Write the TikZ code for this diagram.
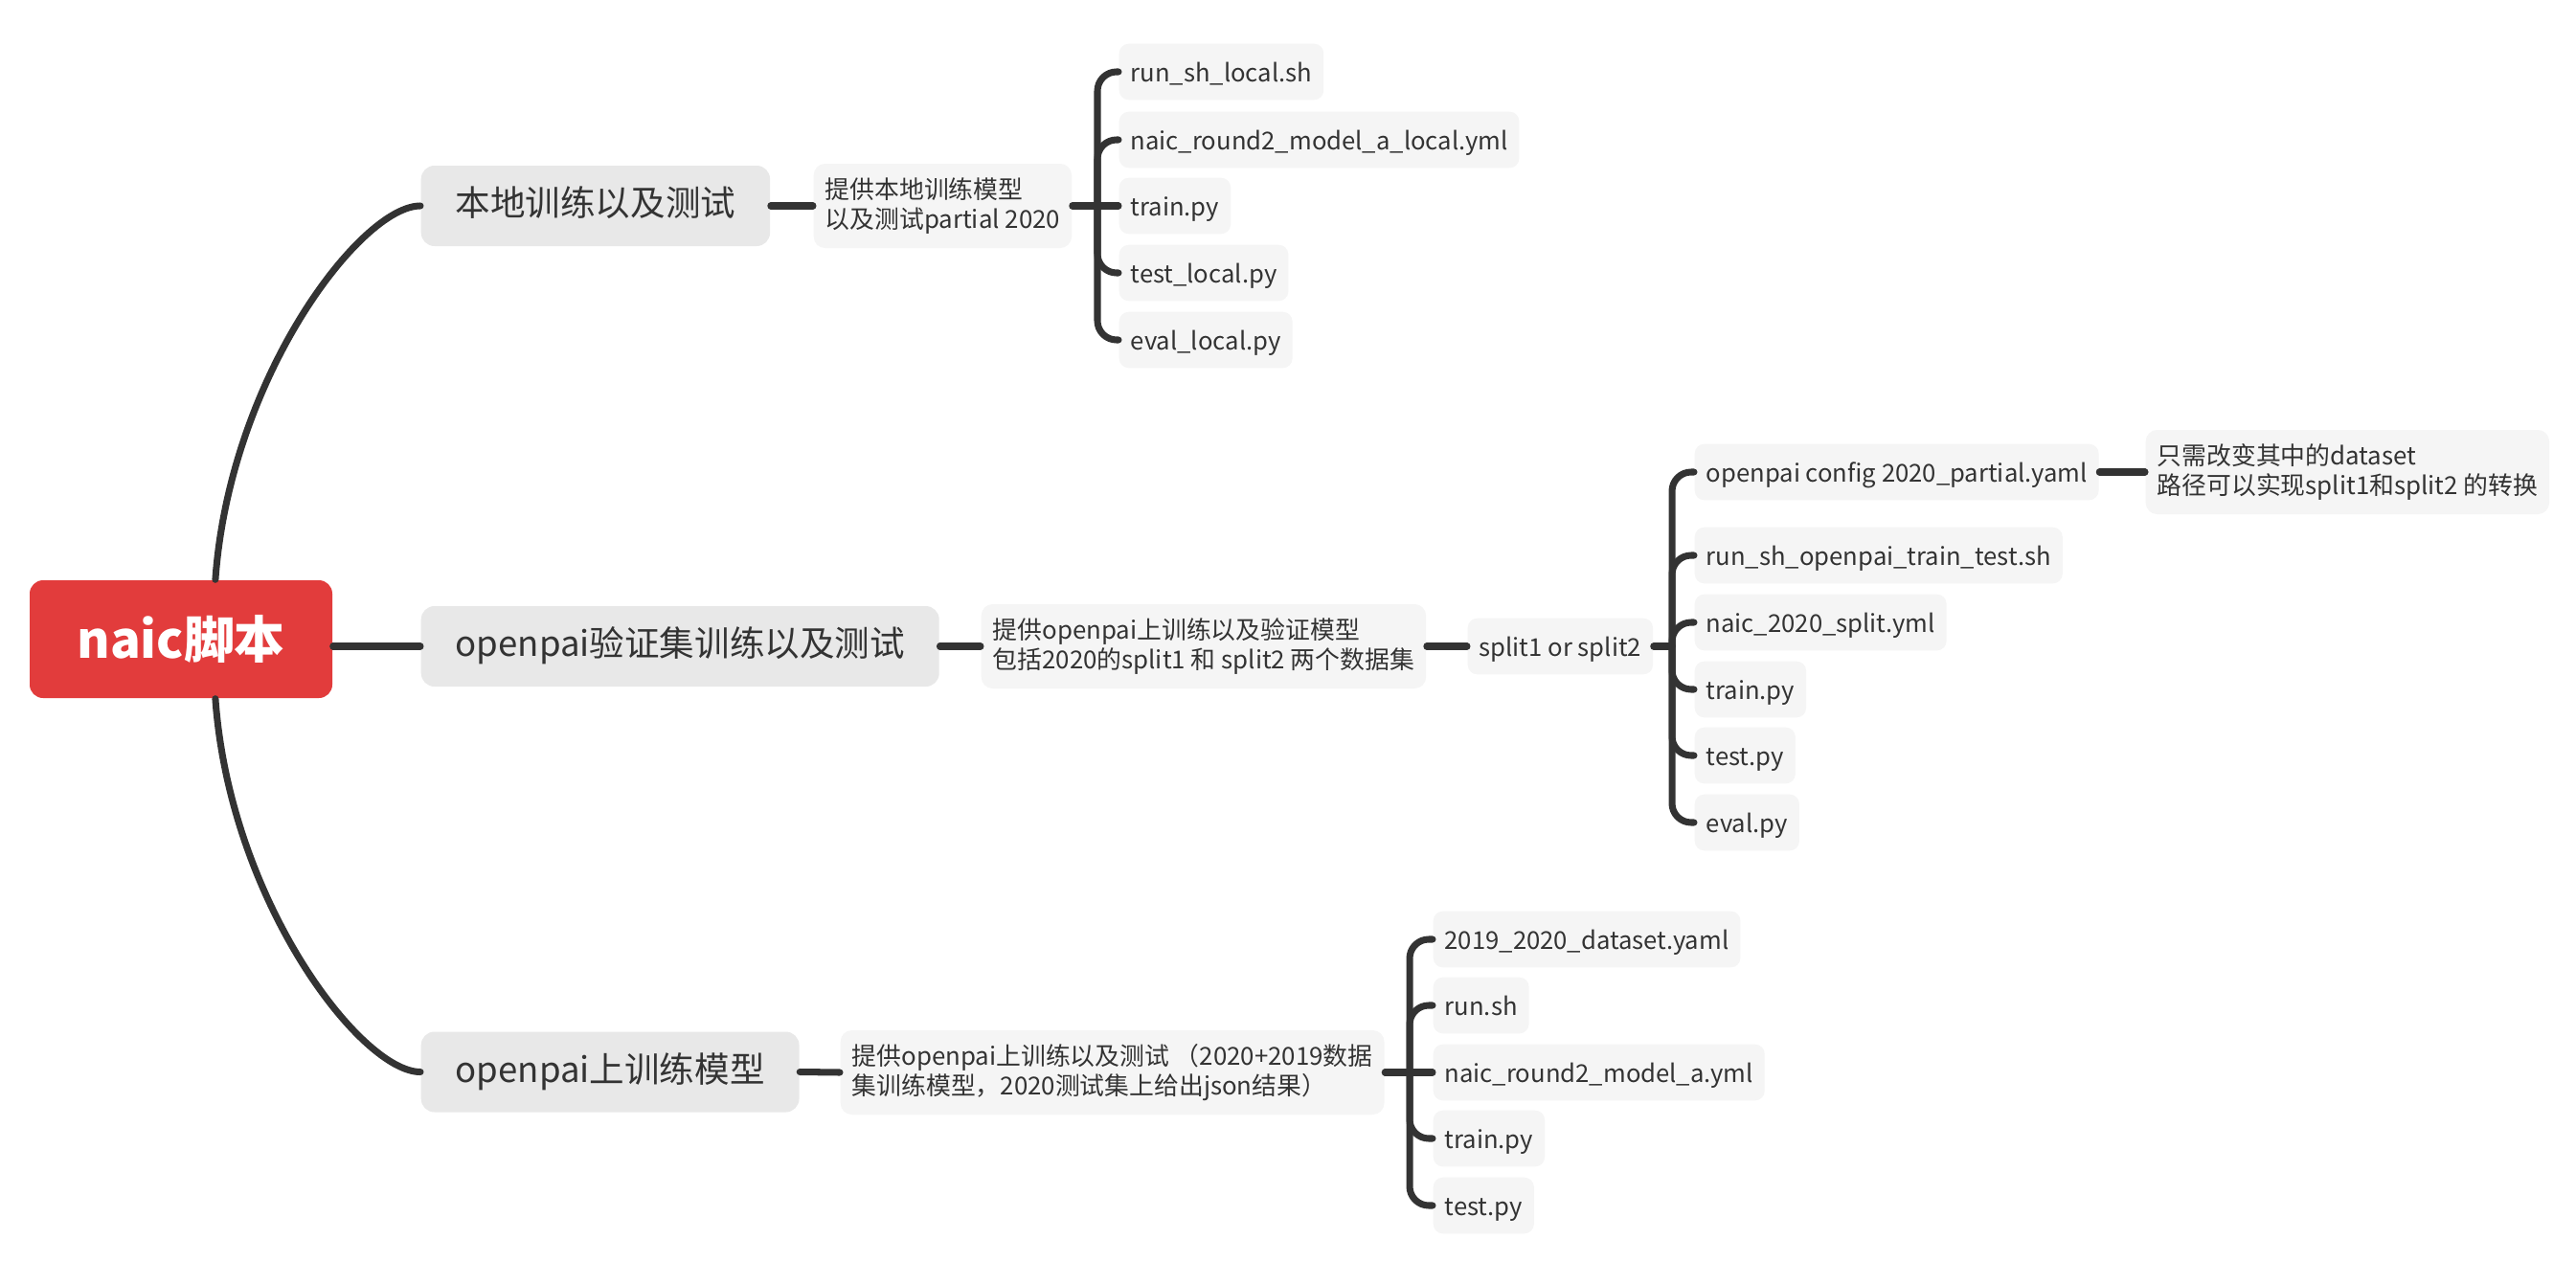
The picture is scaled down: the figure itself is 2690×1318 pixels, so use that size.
\documentclass[tikz,border=0pt]{standalone}
\usepackage{fontspec}
\setmainfont{Noto Sans CJK SC}
\usepackage{tikz}
\definecolor{rootred}{HTML}{E23C3C}
\definecolor{topicgray}{HTML}{E8E8E8}
\definecolor{leafgray}{HTML}{F5F5F5}
\definecolor{ink}{HTML}{333333}
\tikzset{
    rootbox/.style = {fill=rootred, text=white, rounded corners=1.4mm, minimum width=31.6mm, minimum height=12.3mm, font=\fontsize{15}{18}\selectfont\bfseries},
    topicbox/.style = {anchor=west, fill=topicgray, text=ink, rounded corners=1.4mm, inner xsep=3.6mm, minimum height=8.4mm, text height=0.8em, text depth=0.2em, font=\fontsize{10.4}{12}\selectfont},
    descbox/.style = {anchor=west, fill=leafgray, text=ink, rounded corners=1.2mm, inner xsep=1.2mm, minimum height=8.8mm, align=left, font=\fontsize{7.35}{8.9}\selectfont},
    filebox/.style = {anchor=west, fill=leafgray, text=ink, rounded corners=1mm, inner xsep=1.2mm, minimum height=5.5mm, text height=0.8em, text depth=0.2em, font=\fontsize{7.3}{9}\selectfont},
    edgeline/.style = {draw=ink, line width=2pt}
}
\begin{document}
\begin{tikzpicture}[line cap=round,line join=round,x=0.1mm,y=-0.1mm]

    \fill[white] (0,0) rectangle (2690,1318);

    % centre and main topics
    \node[rootbox] (root) at (189,667.5) {naic脚本};
    \node[topicbox] (loc) at (439,215) {本地训练以及测试};
    \node[topicbox] (val) at (439,675) {openpai验证集训练以及测试};
    \node[topicbox] (opt) at (439,1119.5) {openpai上训练模型};

    \draw[edgeline] (root.60) .. controls +(15,-211) and +(-62,0) .. (loc.west);
    \draw[edgeline] (root.east |- val.west) -- (val.west);
    \draw[edgeline] (root.-60) .. controls +(15,211) and +(-62,0) .. (opt.west);

    % local
    \node[descbox] (locdesc) at (849,215) {提供本地训练模型\\以及测试partial 2020};
    \coordinate (jloc) at (1146,215);
    \node[filebox] (loc1) at (1168,75) {run\_sh\_local.sh};
    \node[filebox] (loc2) at (1168,146) {naic\_round2\_model\_a\_local.yml};
    \node[filebox] (loc3) at (1168,215) {train.py};
    \node[filebox] (loc4) at (1168,285) {test\_local.py};
    \node[filebox] (loc5) at (1168,355) {eval\_local.py};

    \draw[edgeline] (loc.east) -- (locdesc.west);
    \draw[edgeline] (locdesc.east) -- (jloc) -- (loc3.west);
    \foreach \f in {loc1,loc2,loc4,loc5}
        \draw[edgeline, rounded corners=2mm] (jloc) |- (\f.west);

    % validation
    \node[descbox] (valdesc) at (1024,675) {提供openpai上训练以及验证模型\\包括2020的split1 和 split2 两个数据集};
    \node[filebox, minimum height=5.8mm] (split) at (1532,675) {split1 or split2};
    \coordinate (jval) at (1746,675);
    \node[filebox] (val1) at (1769,493) {openpai config 2020\_partial.yaml};
    \node[filebox] (val2) at (1769,580) {run\_sh\_openpai\_train\_test.sh};
    \node[filebox] (val3) at (1769,650) {naic\_2020\_split.yml};
    \node[filebox] (val4) at (1769,720) {train.py};
    \node[filebox] (val5) at (1769,789) {test.py};
    \node[filebox] (val6) at (1769,859) {eval.py};
    \node[descbox] (hint) at (2240,493) {只需改变其中的dataset\\路径可以实现split1和split2 的转换};

    \draw[edgeline] (val.east) -- (valdesc.west);
    \draw[edgeline] (valdesc.east) -- (split.west);
    \draw[edgeline] (split.east) -- (jval);
    \foreach \f in {val1,val2,val3,val4,val5,val6}
        \draw[edgeline, rounded corners=2mm] (jval) |- (\f.west);
    \draw[edgeline] (val1.east) -- (hint.west);

    % openpai training
    \node[descbox] (optdesc) at (877,1120) {提供openpai上训练以及测试 （2020+2019数据\\集训练模型，2020测试集上给出json结果）};
    \coordinate (jopt) at (1472,1120);
    \node[filebox] (opt1) at (1496,981) {2019\_2020\_dataset.yaml};
    \node[filebox] (opt2) at (1496,1050) {run.sh};
    \node[filebox] (opt3) at (1496,1120) {naic\_round2\_model\_a.yml};
    \node[filebox] (opt4) at (1496,1189) {train.py};
    \node[filebox] (opt5) at (1496,1259) {test.py};

    \draw[edgeline] (opt.east) -- (optdesc.west);
    \draw[edgeline] (optdesc.east) -- (jopt) -- (opt3.west);
    \foreach \f in {opt1,opt2,opt4,opt5}
        \draw[edgeline, rounded corners=2mm] (jopt) |- (\f.west);
\end{tikzpicture}
\end{document}
